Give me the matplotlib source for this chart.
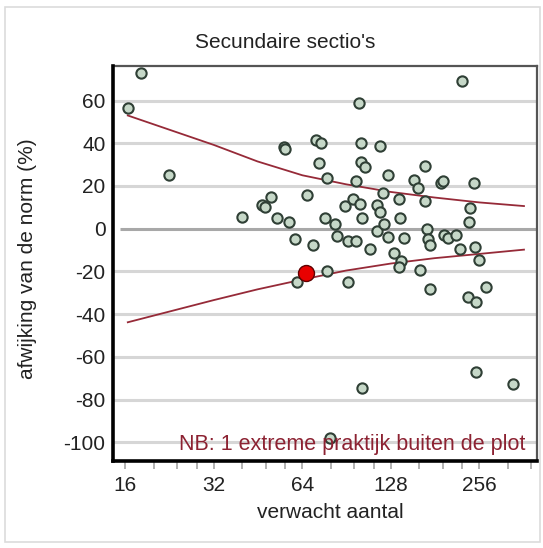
import matplotlib
matplotlib.use("Agg")
import matplotlib.pyplot as plt
from matplotlib.ticker import FixedLocator, FixedFormatter, NullFormatter
from matplotlib.patches import Rectangle

plt.rcParams['font.family'] = ['Liberation Sans', 'DejaVu Sans']

# ---- data ----
expected = [18.1, 16.3, 22.5, 39.8, 46.8, 47.9, 50.2, 52.4, 55.4, 55.8,
            57.4, 60.6, 61.4, 66.6, 69.8, 71.4, 74.3, 73.1, 77.3, 76.4,
            77.3, 82.4, 84.0, 89.3, 91.6, 91.6, 97.4, 94.8, 97.4, 99.4,
            101.6, 101.6, 104.8, 100.6, 102.3, 102.0, 108.6, 114.6, 115.2, 117.1,
            117.8, 120.4, 121.0, 125.1, 125.1, 131.2, 136.5, 137.5, 138.2, 136.5,
            142.2, 153.6, 158.8, 160.5, 167.4, 167.4, 169.6, 170.6, 174.2, 174.2,
            188.8, 192.4, 194.2, 199.6, 213.7, 219.4, 222.6, 234.8, 237.9, 236.7,
            244.7, 247.8, 249.6, 254.9, 249.6, 269.3, 332.8, 79.5]
deviation = [72.7, 56.5, 25.0, 5.5, 10.9, 10.2, 15.0, 5.0, 38.4, 37.4,
             3.1, -5.0, -25.0, 15.7, -7.7, 41.6, 40.3, 30.6, 23.8, 5.0,
             -19.8, 2.0, -3.5, 10.7, -25.0, -5.8, -5.8, 14.1, 22.2, 59.0,
             40.3, 31.4, 28.7, 11.5, 5.0, -74.5, -9.5, -1.0, 10.9, 8.0,
             38.7, 16.9, 2.0, 25.0, -3.8, -11.4, 14.1, 5.0, -15.0, -18.0,
             -4.2, 22.6, 19.0, -19.5, 29.5, 13.2, -0.1, -5.0, -7.4, -28.4,
             21.4, 22.2, -3.0, -4.2, -3.0, -9.5, 69.2, -32.1, 9.6, 3.1,
             21.4, -8.5, -34.4, -14.7, -67.2, -27.3, -72.6, -98.0]

highlight_x = [65.7]
highlight_y = [-20.5]

limit_x = [16.3, 32.0, 45.0, 64.0, 90.0, 128.0, 180.0, 256.0, 363.0]
upper_limit = [53.0, 39.2, 31.5, 25.0, 20.8, 17.2, 14.6, 12.3, 10.6]
lower_limit = [-43.8, -33.4, -28.4, -23.8, -19.6, -16.3, -13.8, -11.8, -9.8]

xticks = [16, 32, 64, 128, 256]
xtick_labels = ['16', '32', '64', '128', '256']
xminor = [20, 24, 28, 40, 48, 56, 80, 96, 112, 160, 192, 224, 320, 384]
yticks = [-100, -80, -60, -40, -20, 0, 20, 40, 60]

title = "Secundaire sectio's"
xlabel = "verwacht aantal"
ylabel = "afwijking van de norm (%)"
note = "NB: 1 extreme praktijk buiten de plot"

# ---- figure ----
fig = plt.figure(figsize=(5.43, 5.48), dpi=100)
fig.patches.append(Rectangle((5/543, 6/548), 535/543, 535/548, transform=fig.transFigure,
                             fill=False, edgecolor='#dcdcdc', linewidth=1.2))
ax = fig.add_axes([112.5/543, 1 - 460.5/548, (537 - 112.5)/543, (460.5 - 65.7)/548])
ax.set_xscale('log', base=2)
ax.set_xlim(14.46, 402)
ax.set_ylim(-108.5, 76.3)

for v in yticks:
    if v == 0:
        continue
    ax.axhline(v, color='#d6d6d6', lw=2.2, zorder=1)
ax.hlines(0, 15.3, 402, color='#a8a8a8', lw=2.2, zorder=1.1)

ax.plot(limit_x, upper_limit, color='#962a38', lw=1.3, zorder=2)
ax.plot(limit_x, lower_limit, color='#962a38', lw=1.3, zorder=2)

ax.plot(expected, deviation, linestyle='none', marker='o', ms=7.4, mew=1.5,
        mfc='#c6d8c8', mec='#2f3f35', zorder=3)
ax.plot(highlight_x, highlight_y, linestyle='none', marker='o', ms=11.5, mew=1.0,
        mfc='#e80000', mec='#600000', zorder=4)

ax.text(0.972, 0.040, note, transform=ax.transAxes, ha='right', va='center',
        fontsize=15.5, color='#8c2232', zorder=5)

ax.xaxis.set_major_locator(FixedLocator(xticks))
ax.xaxis.set_major_formatter(FixedFormatter(xtick_labels))
ax.xaxis.set_minor_locator(FixedLocator(xminor))
ax.xaxis.set_minor_formatter(NullFormatter())
ax.set_yticks(yticks)
ax.set_yticklabels([str(v) for v in yticks])

ax.tick_params(axis='x', which='both', direction='out', length=6, width=1.4,
               color='#b0b0b0', pad=5, labelsize=15, labelcolor='#222222')
ax.tick_params(axis='y', length=0, pad=5, labelsize=15, labelcolor='#222222')

for s in ['left', 'bottom']:
    ax.spines[s].set_linewidth(2.6)
    ax.spines[s].set_color('black')
for s in ['top', 'right']:
    ax.spines[s].set_linewidth(1.6)
    ax.spines[s].set_color('#555555')
ax.spines['left'].set_zorder(6)
ax.spines['bottom'].set_zorder(6)

fig.text(285.5/543, 1 - 42/548, title, ha='center', va='center', fontsize=15, color='#222222')
fig.text(330.7/543, 1 - 512/548, xlabel, ha='center', va='center', fontsize=15, color='#222222')
fig.text(27.7/543, 1 - 259/548, ylabel, ha='center', va='center', rotation=90,
         fontsize=15, color='#222222')

fig.savefig('out.png', dpi=100)
